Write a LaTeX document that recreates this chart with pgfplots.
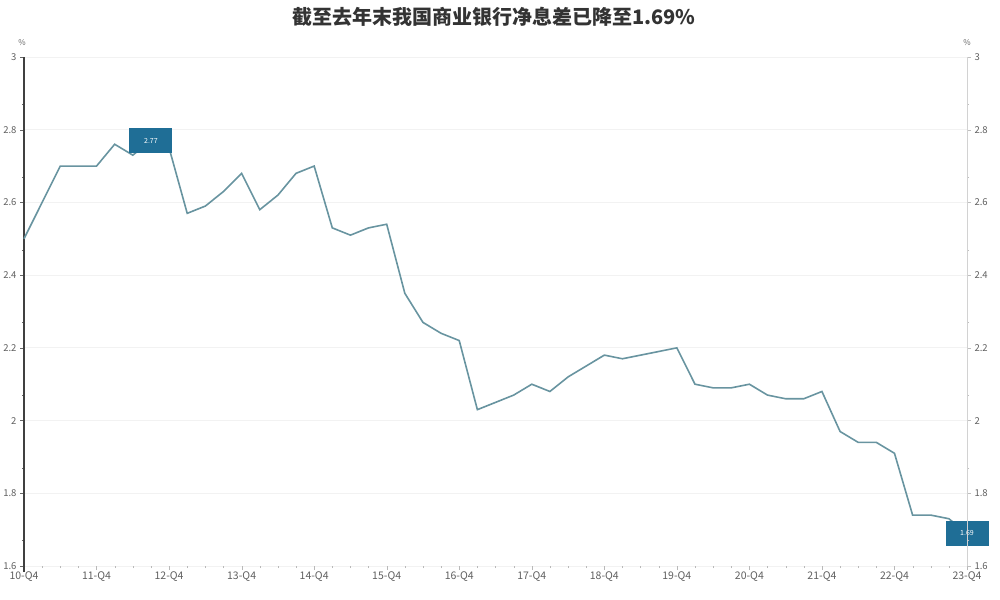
\documentclass[border=0pt]{standalone}
\usepackage{pgfplots}
\pgfplotsset{compat=1.18}
\usepackage{fontspec}
\setmainfont{Noto Sans CJK SC}

\definecolor{nimline}{RGB}{104,148,160}
\definecolor{boxblue}{RGB}{31,110,150}
\definecolor{lbl}{RGB}{95,95,95}

% quarterly NIM, index 0 = 10-Q4 ... 52 = 23-Q4
\pgfplotstableread{
q  nim
0  2.50
1  2.60
2  2.70
3  2.70
4  2.70
5  2.76
6  2.73
7  2.77
8  2.75
9  2.57
10 2.59
11 2.63
12 2.68
13 2.58
14 2.62
15 2.68
16 2.70
17 2.53
18 2.51
19 2.53
20 2.54
21 2.35
22 2.27
23 2.24
24 2.22
25 2.03
26 2.05
27 2.07
28 2.10
29 2.08
30 2.12
31 2.15
32 2.18
33 2.17
34 2.18
35 2.19
36 2.20
37 2.10
38 2.09
39 2.09
40 2.10
41 2.07
42 2.06
43 2.06
44 2.08
45 1.97
46 1.94
47 1.94
48 1.91
49 1.74
50 1.74
51 1.73
52 1.69
}\nimdata

\pgfplotsset{
  nimbase/.style={
    at={(24pt,33pt)}, anchor=south west,
    scale only axis, width=943pt, height=509pt,
    xmin=0, xmax=52, ymin=1.6, ymax=3,
    ytick={1.6,1.8,2,2.2,2.4,2.6,2.8,3},
    minor ytick={1.67,1.87,2.07,2.27,2.47,2.67,2.87},
    tick align=outside,
    major tick length=4pt, minor tick length=2pt,
    /pgf/number format/assume math mode=true,
    tick label style={font=\fontsize{9.5}{10}\selectfont, text=lbl},
    label style={font=\fontsize{8}{9}\selectfont, text=lbl},
    ylabel={\%},
    clip=false,
  },
}

\begin{document}
\begin{tikzpicture}
\path[use as bounding box] (0pt,0pt) rectangle (1000pt,599pt);
\node[font=\fontsize{20}{22}\selectfont\bfseries, text=black!80] at (494pt,582pt)
  {截至去年末我国商业银行净息差已降至1.69\%};

\begin{axis}[nimbase,
  axis y line*=left, axis x line*=bottom,
  x axis line style={draw=none},
  y axis line style={draw=black!75, line width=1.2pt, shorten <=-6pt},
  ytick style={draw=black!60},
  xtick={0,4,...,52},
  xticklabels={10-Q4,11-Q4,12-Q4,13-Q4,14-Q4,15-Q4,16-Q4,17-Q4,18-Q4,19-Q4,20-Q4,21-Q4,22-Q4,23-Q4},
  xticklabel style={font=\fontsize{10.5}{11}\selectfont, yshift=1.5pt},
  minor x tick num=3,
  xtick style={draw=gray!55},
  ymajorgrids, grid style={draw=gray!10, line width=0.8pt},
  y label style={at={(axis description cs:0,1)}, rotate=-90, anchor=south, yshift=8pt, xshift=-2pt},
]
\addplot[color=nimline, line width=1.6pt] table[x=q, y=nim] {\nimdata};
\addplot[draw=none, mark=none,
  nodes near coords, point meta=explicit symbolic,
  nodes near coords style={anchor=center, fill=boxblue, text=white,
    minimum width=43pt, minimum height=25pt, inner sep=0pt,
    font=\fontsize{7}{8}\selectfont\itshape}]
  coordinates {(7,2.77) [2.77] (52,1.69) [1.69]};
\end{axis}

\begin{axis}[nimbase,
  axis y line*=right, axis x line=none,
  y axis line style={draw=gray!35, line width=0.8pt},
  ytick style={draw=gray!50},
  y label style={at={(axis description cs:1,1)}, rotate=-90, anchor=south, yshift=8pt},
]
\end{axis}
\end{tikzpicture}
\end{document}
